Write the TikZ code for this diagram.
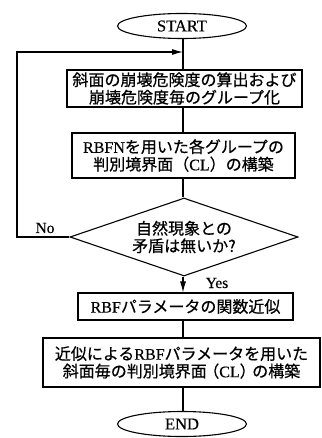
\documentclass[tikz,border=0pt]{standalone}
\usepackage{fontspec}
\setmainfont{Liberation Serif}[FakeBold=0.4]
\newfontfamily\jp{Noto Sans CJK JP}[FakeBold=0.6]
\usetikzlibrary{shapes.geometric,arrows.meta}
\newcommand{\lpar}{\hspace{-3.5pt}{\jp （}}
\newcommand{\rpar}{{\jp ）}\hspace{-3.5pt}}
\tikzset{
  base/.style={draw=black, line width=1.1pt, inner sep=0pt, align=center,
    font=\fontsize{16}{17.5}\selectfont},
  term/.style={base, ellipse, minimum width=129pt, minimum height=25pt, font=\fontsize{16.5}{18}\selectfont},
  proc/.style={base, rectangle},
  dec/.style={base, diamond},
  line/.style={draw=black, line width=1.1pt},
  arr/.style={line, -{Latex[length=11pt,width=6pt]}},
  lab/.style={font=\fontsize{15.5}{17}\selectfont, inner sep=0pt}
}
\begin{document}
\begin{tikzpicture}[x=1pt,y=-1pt]
\useasboundingbox (0,0) rectangle (321,438);
\node[term] (start) at (182,26) {START};
\node[proc, minimum width=235pt, minimum height=37pt] (b1) at (184.5,88.5)
  {{\jp 斜面の崩壊危険度の算出および}\\{\jp 崩壊危険度毎のグループ化}};
\node[proc, minimum width=223pt, minimum height=45pt] (b2) at (183.5,155.5)
  {RBFN{\jp を用いた各グループの}\\{\jp 判別境界面（}CL{\jp ）の構築}};
\node[dec, minimum width=228pt, minimum height=78pt, aspect=2.9] (dia) at (184,237)
  {};
\node[font=\fontsize{16}{17.5}\selectfont, align=center, inner sep=0pt] (diat) at (184,237)
  {{\jp 自然現象との}\\{\jp 矛盾は無いか?}};
\node[proc, minimum width=215pt, minimum height=27pt] (b3) at (185.5,306.5)
  {RBF{\jp パラメータの関数近似}};
\node[proc, minimum width=277pt, minimum height=49pt] (b4) at (181.5,362.5)
  {{\jp 近似による}RBF{\jp パラメータを用いた}\\{\jp 斜面毎の判別境界面}\lpar CL\rpar{\jp の構築}};
\node[term] (end) at (182,424) {END};

\coordinate (fb) at (183,52);
\coordinate (fbL) at (17,237);

\draw[line] (start.south -| fb) -- (b1.north -| fb);
\draw[line] (b1.south -| fb) -- (b2.north -| fb);
\draw[line] (b2.south -| fb) -- (dia.north -| fb);
\draw[arr] (dia.south -| fb) -- (b3.north -| fb);
\draw[line] (b3.south -| fb) -- (b4.north -| fb);
\draw[line] (b4.south -| fb) -- (end.north -| fb);
\draw[arr] (dia.west) -- (fbL) |- (fb);

\node[lab] (no) at (45,228) {No};
\node[lab] (yes) at (217,283) {Yes};
\end{tikzpicture}
\end{document}
